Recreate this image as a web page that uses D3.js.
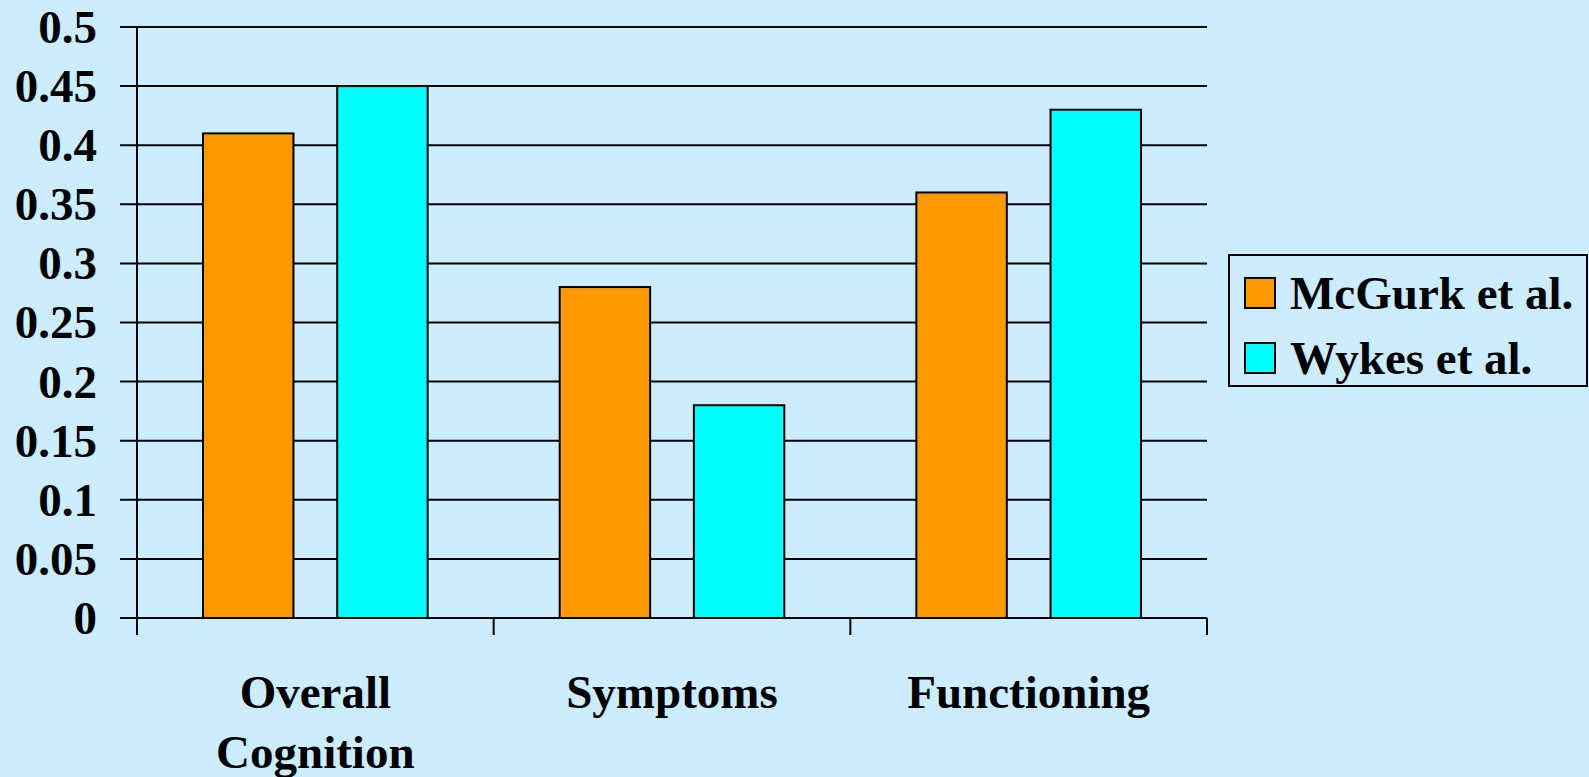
<!DOCTYPE html>
<html>
<head>
<meta charset="utf-8">
<script src="https://cdn.jsdelivr.net/npm/d3@7"></script>
<style>
  html, body { margin: 0; padding: 0; background: #CCECFF; }
  svg { display: block; }
  text { font-family: "Liberation Serif", "Times New Roman", serif; font-weight: bold; fill: #000; }
</style>
</head>
<body>
<svg id="chart" width="1589" height="777"></svg>
<script>
const categories = [["Overall", "Cognition"], ["Symptoms"], ["Functioning"]];
const seriesNames = ["McGurk et al.", "Wykes et al."];
const mcgurk = [0.41, 0.28, 0.36];
const wykes = [0.45, 0.18, 0.43];
const yTicks = [0, 0.05, 0.1, 0.15, 0.2, 0.25, 0.3, 0.35, 0.4, 0.45, 0.5];
const yTickLabels = ["0", "0.05", "0.1", "0.15", "0.2", "0.25", "0.3", "0.35", "0.4", "0.45", "0.5"];
const colors = ["#FF9900", "#00FFFF"];

(function () {
const svg = d3.select("#chart");
const W = 1589, H = 777;
svg.append("rect").attr("width", W).attr("height", H).attr("fill", "#CCECFF");

const mLeft = 137, mRight = 1207, mTop = 27, mBottom = 618;
const catKeys = categories.map(c => c.join(" "));
const x0 = d3.scaleBand().domain(catKeys).range([mLeft, mRight]).padding(0);
const x1 = d3.scaleBand().domain(seriesNames).range([0, x0.bandwidth()])
  .paddingInner(0.326).paddingOuter(0.492);
const y = d3.scaleLinear().domain([0, 0.5]).range([mBottom, mTop]);

const fs = 47;

// gridlines (with left tick extension)
svg.append("g").selectAll("line").data(yTicks).join("line")
  .attr("x1", mLeft - 17).attr("x2", mRight)
  .attr("y1", d => y(d)).attr("y2", d => y(d))
  .attr("stroke", "#000").attr("stroke-width", 2);

// y labels
svg.append("g").selectAll("text").data(yTicks).join("text")
  .attr("x", 97).attr("y", d => y(d)).attr("dy", "0.34em")
  .attr("text-anchor", "end").attr("font-size", fs)
  .text((d, i) => yTickLabels[i]);

// bars
const series = [mcgurk, wykes];
const groups = svg.append("g").selectAll("g").data(catKeys).join("g")
  .attr("transform", d => `translate(${x0(d)},0)`);
groups.selectAll("rect").data((d, i) => seriesNames.map((s, j) => ({ s, v: series[j][i], j })))
  .join("rect")
  .attr("x", d => x1(d.s)).attr("width", x1.bandwidth())
  .attr("y", d => y(d.v)).attr("height", d => y(0) - y(d.v))
  .attr("fill", d => colors[d.j]).attr("stroke", "#000").attr("stroke-width", 2);

// y axis line
svg.append("line").attr("x1", mLeft).attr("x2", mLeft).attr("y1", mTop).attr("y2", mBottom + 17)
  .attr("stroke", "#000").attr("stroke-width", 2);
// x axis line
svg.append("line").attr("x1", mLeft - 17).attr("x2", mRight).attr("y1", mBottom).attr("y2", mBottom)
  .attr("stroke", "#000").attr("stroke-width", 2);
// category boundary ticks
const bounds = catKeys.map(k => x0(k)).concat([mRight]);
svg.append("g").selectAll("line").data(bounds).join("line")
  .attr("x1", d => d).attr("x2", d => d).attr("y1", mBottom).attr("y2", mBottom + 17)
  .attr("stroke", "#000").attr("stroke-width", 2);

// category labels
const cl = svg.append("g").selectAll("text").data(categories).join("text")
  .attr("text-anchor", "middle").attr("font-size", fs)
  .attr("x", (d, i) => x0(catKeys[i]) + x0.bandwidth() / 2)
  .attr("y", 708);
cl.selectAll("tspan").data(d => d).join("tspan")
  .attr("x", function () { return d3.select(this.parentNode).attr("x"); })
  .attr("dy", (d, i) => i === 0 ? 0 : 60)
  .text(d => d);

// legend
const lg = svg.append("g");
lg.append("rect").attr("x", 1229).attr("y", 255).attr("width", 358).attr("height", 131)
  .attr("fill", "#CCECFF").attr("stroke", "#000").attr("stroke-width", 2);
seriesNames.forEach((s, i) => {
  const yy = 278 + i * 65;
  lg.append("rect").attr("x", 1245).attr("y", yy).attr("width", 30).attr("height", 30)
    .attr("fill", colors[i]).attr("stroke", "#000").attr("stroke-width", 2);
  lg.append("text").attr("x", 1290).attr("y", yy + 31).attr("font-size", fs).text(s);
});
})();
</script>
</body>
</html>
